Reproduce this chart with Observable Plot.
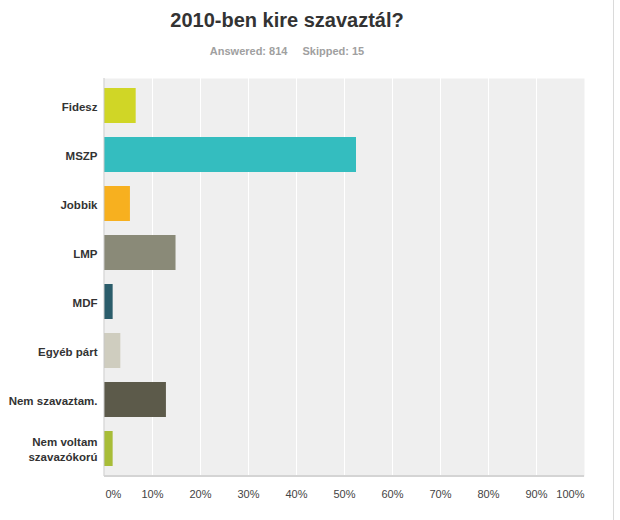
<!DOCTYPE html>
<html>
<head>
<meta charset="utf-8">
<script src="https://cdn.jsdelivr.net/npm/d3@7"></script>
<script src="https://cdn.jsdelivr.net/npm/@observablehq/plot@0.6"></script>
<style>
  html, body { margin: 0; padding: 0; background: #fff; }
  body { width: 620px; height: 520px; position: relative; overflow: hidden; font-family: Arial, "Liberation Sans", sans-serif; }
  #head { position: relative; width: 620px; height: 60px; }
  #title { position: absolute; left: 0; width: 574px; top: 8px; text-align: center; font-size: 20px; line-height: 24px; font-weight: bold; color: #333; }
  #sub { position: absolute; left: 0; width: 574px; top: 45px; text-align: center; font-size: 11px; line-height: 13px; font-weight: bold; color: #a0a0a0; word-spacing: 0; }
  #sub span + span { margin-left: 15px; }
  #border { position: absolute; left: 613px; top: 0; width: 1px; height: 520px; background: #dadada; }
  #chart svg { display: block; }
</style>
</head>
<body>
<div id="head">
  <div id="title">2010-ben kire szavaztál?</div>
  <div id="sub"><span>Answered: 814</span><span>Skipped: 15</span></div>
</div>
<div id="chart"></div>
<div id="border"></div>
<script>
const categories = ["Fidesz", "MSZP", "Jobbik", "LMP", "MDF", "Egyéb párt", "Nem szavaztam.", "Nem voltam szavazókorú"];
const labels = ["Fidesz", "MSZP", "Jobbik", "LMP", "MDF", "Egyéb párt", "Nem szavaztam.", "Nem voltam\nszavazókorú"];
const percents = [6.6, 52.5, 5.4, 14.9, 1.8, 3.4, 12.9, 1.8];
const colors = ["#d0d626", "#34bdbf", "#f7b01f", "#8a8a78", "#2b5d6b", "#cfcdbf", "#5c5a4a", "#a8bd38"];
const tickValues = [0, 10, 20, 30, 40, 50, 60, 70, 80, 90, 100];
const tickLabels = ["0%", "10%", "20%", "30%", "40%", "50%", "60%", "70%", "80%", "90%", "100%"];

const rows = categories.map((c, i) => ({name: c, label: labels[i], value: percents[i], color: colors[i]}));
const ticks = tickValues.map((v, i) => ({v, t: tickLabels[i]}));
const grid = tickValues.filter(v => v > 0 && v < 100);

const bottomLine = (index, scales, values, dims) => {
  const g = document.createElementNS("http://www.w3.org/2000/svg", "line");
  g.setAttribute("x1", dims.marginLeft);
  g.setAttribute("x2", dims.width - dims.marginRight);
  g.setAttribute("y1", dims.height - dims.marginBottom);
  g.setAttribute("y2", dims.height - dims.marginBottom);
  g.setAttribute("stroke", "#d4d4d4");
  g.setAttribute("stroke-width", 2);
  return g;
};
const leftLine = (index, scales, values, dims) => {
  const g = document.createElementNS("http://www.w3.org/2000/svg", "line");
  g.setAttribute("x1", dims.marginLeft);
  g.setAttribute("x2", dims.marginLeft);
  g.setAttribute("y1", dims.marginTop);
  g.setAttribute("y2", dims.height - dims.marginBottom);
  g.setAttribute("stroke", "#c8c8c8");
  g.setAttribute("stroke-width", 1);
  return g;
};

const chart = Plot.plot({
  width: 620,
  height: 460,
  marginTop: 18,
  marginBottom: 44,
  marginLeft: 104,
  marginRight: 36,
  style: {fontFamily: "Arial, 'Liberation Sans', sans-serif", background: "transparent", overflow: "visible"},
  x: {domain: [0, 100], axis: null},
  y: {domain: categories, axis: null, paddingInner: 0.28, paddingOuter: 0.14},
  marks: [
    Plot.frame({fill: "#efefef", stroke: null}),
    Plot.ruleX(grid, {x: d => d, stroke: "#ffffff", strokeWidth: 1}),
    Plot.barX(rows, {x: "value", y: "name", fill: "color"}),
    leftLine,
    bottomLine,
    Plot.text(rows, {y: "name", text: "label", frameAnchor: "left", textAnchor: "end", dx: -7, fontSize: 11.5, fontWeight: "bold", fill: "#333", lineHeight: 1.25}),
    Plot.text(ticks.filter(d => d.v === 0), {x: "v", text: "t", frameAnchor: "bottom", dy: 21, dx: 1, textAnchor: "start", fontSize: 11, fill: "#444"}),
    Plot.text(ticks.filter(d => d.v > 0 && d.v < 100), {x: "v", text: "t", frameAnchor: "bottom", dy: 21, textAnchor: "middle", fontSize: 11, fill: "#444"}),
    Plot.text(ticks.filter(d => d.v === 100), {x: "v", text: "t", frameAnchor: "bottom", dy: 21, textAnchor: "end", fontSize: 11, fill: "#444"})
  ]
});
document.getElementById("chart").appendChild(chart);
</script>
</body>
</html>
